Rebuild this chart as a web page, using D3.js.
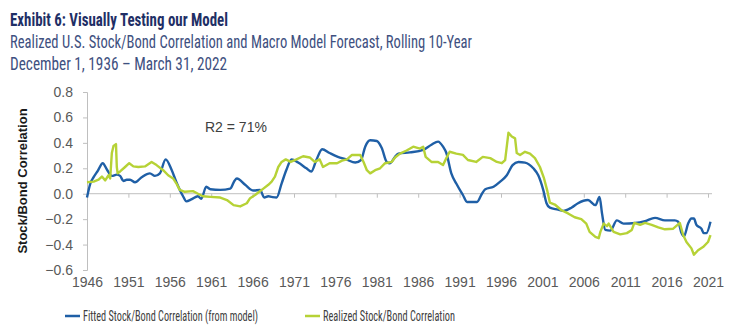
<!DOCTYPE html>
<html>
<head>
<meta charset="utf-8">
<script src="https://cdn.jsdelivr.net/npm/d3@7"></script>
<style>
  body { margin: 0; background: #fff; }
  text { font-family: "Liberation Sans", Arial, sans-serif; }
  .narrow { font-family: "Liberation Sans Narrow", "Roboto Condensed", "DejaVu Sans Condensed", sans-serif; }
</style>
</head>
<body>
<script>
// fitted stock/bond correlation (model)
var fittedYears = [1946.0, 1946.4, 1946.8, 1947.3, 1947.9, 1948.4, 1949.0, 1949.6, 1950.0, 1950.4, 1950.8, 1951.2, 1951.8, 1952.6, 1953.6, 1954.2, 1954.8, 1955.5, 1956.2, 1956.8, 1957.6, 1958.0, 1958.6, 1959.4, 1959.8, 1960.4, 1960.9, 1962.1, 1963.3, 1963.8, 1964.1, 1965.1, 1966.1, 1966.9, 1967.4, 1967.9, 1968.3, 1968.9, 1969.5, 1970.1, 1970.7, 1971.5, 1972.5, 1973.1, 1973.7, 1974.4, 1975.3, 1976.3, 1977.3, 1978.4, 1979.1, 1979.6, 1980.2, 1981.0, 1981.6, 1982.2, 1982.6, 1983.2, 1983.6, 1985.0, 1986.6, 1987.6, 1988.4, 1989.0, 1989.4, 1990.0, 1990.6, 1991.4, 1991.9, 1992.6, 1993.1, 1993.7, 1994.1, 1995.1, 1995.9, 1996.7, 1997.4, 1998.1, 1998.9, 1999.9, 2000.5, 2001.1, 2001.5, 2001.9, 2002.9, 2003.5, 2004.5, 2005.3, 2006.5, 2007.4, 2007.9, 2008.2, 2008.6, 2009.2, 2010.0, 2010.8, 2012.2, 2013.4, 2014.6, 2015.8, 2017.0, 2017.4, 2017.8, 2018.1, 2018.6, 2019.0, 2019.3, 2019.6, 2020.2, 2020.5, 2020.8, 2021.3];
var fittedVals = [-0.03, 0.08, 0.13, 0.18, 0.24, 0.19, 0.14, 0.15, 0.14, 0.10, 0.11, 0.11, 0.09, 0.13, 0.16, 0.14, 0.16, 0.27, 0.19, 0.09, -0.02, -0.06, -0.045, -0.02, -0.04, 0.055, 0.035, 0.03, 0.04, 0.10, 0.12, 0.07, 0.025, 0.03, -0.03, -0.02, -0.025, -0.03, 0.08, 0.19, 0.27, 0.245, 0.20, 0.175, 0.265, 0.35, 0.32, 0.29, 0.27, 0.245, 0.265, 0.37, 0.42, 0.415, 0.36, 0.25, 0.24, 0.29, 0.315, 0.325, 0.345, 0.385, 0.41, 0.37, 0.32, 0.16, 0.08, -0.01, -0.065, -0.065, -0.065, 0.0, 0.035, 0.055, 0.095, 0.145, 0.225, 0.25, 0.245, 0.20, 0.145, 0.03, -0.075, -0.11, -0.125, -0.135, -0.11, -0.075, -0.05, -0.09, -0.025, -0.155, -0.285, -0.29, -0.21, -0.235, -0.23, -0.215, -0.19, -0.21, -0.21, -0.22, -0.31, -0.335, -0.235, -0.195, -0.195, -0.245, -0.275, -0.31, -0.31, -0.22];

// realized stock/bond correlation
var realizedYears = [1946.0, 1946.8, 1947.4, 1947.8, 1948.2, 1948.6, 1948.8, 1949.0, 1949.2, 1949.5, 1949.6, 1949.7, 1950.0, 1950.6, 1951.1, 1951.6, 1952.2, 1953.0, 1953.8, 1954.4, 1955.2, 1955.8, 1956.4, 1956.8, 1957.2, 1957.8, 1958.8, 1959.4, 1960.0, 1960.9, 1962.1, 1962.9, 1963.7, 1964.5, 1965.3, 1965.7, 1966.3, 1966.8, 1967.3, 1967.9, 1968.3, 1968.7, 1969.1, 1969.5, 1970.0, 1970.6, 1971.3, 1972.1, 1972.9, 1973.5, 1974.1, 1974.5, 1975.3, 1976.2, 1976.8, 1977.4, 1978.0, 1979.0, 1979.4, 1979.8, 1980.2, 1980.8, 1981.4, 1982.0, 1982.8, 1983.2, 1983.8, 1984.6, 1985.4, 1986.2, 1986.6, 1986.9, 1987.6, 1988.4, 1989.0, 1989.4, 1989.8, 1990.6, 1991.4, 1992.0, 1993.0, 1993.8, 1994.7, 1995.5, 1996.1, 1996.5, 1996.9, 1997.3, 1997.7, 1997.9, 1998.3, 1998.9, 1999.5, 2000.1, 2000.7, 2001.2, 2001.6, 2001.9, 2002.5, 2003.3, 2004.1, 2004.9, 2005.7, 2006.3, 2006.7, 2007.4, 2007.8, 2008.0, 2008.4, 2008.8, 2009.0, 2009.6, 2010.4, 2011.2, 2011.8, 2012.1, 2012.8, 2013.4, 2014.2, 2015.0, 2015.8, 2016.8, 2017.6, 2018.0, 2018.4, 2019.0, 2019.3, 2019.8, 2020.4, 2021.0, 2021.3];
var realizedVals = [0.09, 0.095, 0.11, 0.135, 0.105, 0.145, 0.12, 0.32, 0.375, 0.39, 0.21, 0.16, 0.175, 0.21, 0.24, 0.215, 0.21, 0.215, 0.25, 0.225, 0.185, 0.145, 0.12, 0.08, 0.03, 0.015, 0.02, 0.0, -0.02, -0.025, -0.03, -0.05, -0.09, -0.10, -0.075, -0.035, -0.01, 0.015, 0.04, 0.07, 0.095, 0.135, 0.21, 0.25, 0.27, 0.25, 0.27, 0.295, 0.285, 0.25, 0.27, 0.21, 0.24, 0.24, 0.26, 0.27, 0.305, 0.305, 0.25, 0.185, 0.16, 0.185, 0.20, 0.24, 0.25, 0.285, 0.315, 0.34, 0.37, 0.355, 0.37, 0.29, 0.25, 0.25, 0.225, 0.28, 0.33, 0.315, 0.305, 0.265, 0.25, 0.29, 0.28, 0.25, 0.24, 0.265, 0.48, 0.45, 0.435, 0.32, 0.305, 0.33, 0.315, 0.28, 0.21, 0.12, 0.02, -0.07, -0.085, -0.13, -0.155, -0.185, -0.20, -0.235, -0.30, -0.34, -0.35, -0.30, -0.235, -0.255, -0.235, -0.30, -0.32, -0.31, -0.285, -0.23, -0.245, -0.23, -0.245, -0.265, -0.28, -0.275, -0.23, -0.325, -0.38, -0.43, -0.48, -0.445, -0.42, -0.38, -0.325];

var xTicks = [1946, 1951, 1956, 1961, 1966, 1971, 1976, 1981, 1986, 1991, 1996, 2001, 2006, 2011, 2016, 2021];
var yTicks = [0.8, 0.6, 0.4, 0.2, 0.0, -0.2, -0.4, -0.6];

var blue = '#1f5fa6';
var green = '#b6d236';

var svg = d3.select('body')
    .append('svg')
    .attr('width', 740)
    .attr('height', 335);

// titles
svg.append('text')
    .attr('class', 'narrow')
    .attr('x', 10).attr('y', 26)
    .attr('font-size', 19).attr('font-weight', 'bold')
    .attr('fill', '#1f2f66')
    .attr('textLength', 218).attr('lengthAdjust', 'spacingAndGlyphs')
    .text('Exhibit 6: Visually Testing our Model');

svg.append('text')
    .attr('class', 'narrow')
    .attr('x', 10).attr('y', 48)
    .attr('font-size', 18.5)
    .attr('fill', '#3e5080')
    .attr('textLength', 462).attr('lengthAdjust', 'spacingAndGlyphs')
    .text('Realized U.S. Stock/Bond Correlation and Macro Model Forecast, Rolling 10-Year');

svg.append('text')
    .attr('class', 'narrow')
    .attr('x', 10).attr('y', 70)
    .attr('font-size', 18.5)
    .attr('fill', '#3e5080')
    .attr('textLength', 217).attr('lengthAdjust', 'spacingAndGlyphs')
    .text('December 1, 1936 \u2013 March 31, 2022');

var x = d3.scaleLinear().domain([1946, 2021]).range([87, 708]);
var y = d3.scaleLinear().domain([-0.6, 0.8]).range([270, 92]);

// y axis
var yAxis = svg.append('g')
    .attr('transform', 'translate(87,0)')
    .call(d3.axisLeft(y).tickValues(yTicks).tickSize(4).tickPadding(10)
        .tickFormat(d3.format('.1f')));
yAxis.select('.domain').attr('stroke', '#bfbfbf');
yAxis.selectAll('.tick line').attr('stroke', '#bfbfbf');
yAxis.selectAll('.tick text')
    .attr('fill', '#595959')
    .attr('font-size', 14)
    .attr('font-family', '"Liberation Sans", Arial, sans-serif');

// x axis along zero line
var xAxis = svg.append('g')
    .attr('transform', 'translate(0,' + y(0) + ')')
    .call(d3.axisBottom(x).tickValues(xTicks).tickSize(4).tickSizeOuter(0)
        .tickFormat(d3.format('d')));
xAxis.select('.domain').attr('stroke', '#bfbfbf').attr('d', 'M87,0H712');
xAxis.selectAll('.tick line').attr('stroke', '#bfbfbf');
xAxis.selectAll('.tick text')
    .attr('fill', '#595959')
    .attr('font-size', 14)
    .attr('font-family', '"Liberation Sans", Arial, sans-serif')
    .attr('y', 292 - y(0) - 5)
    .attr('dy', 0);

// axis title
svg.append('text')
    .attr('transform', 'translate(27,181) rotate(-90)')
    .attr('text-anchor', 'middle')
    .attr('font-size', 13).attr('font-weight', 'bold')
    .attr('fill', '#1a1a1a')
    .text('Stock/Bond Correlation');

svg.append('text')
    .attr('x', 205).attr('y', 132)
    .attr('font-size', 14)
    .attr('fill', '#404040')
    .text('R2 = 71%');

var fitted = fittedYears.map(function (d, i) { return [d, fittedVals[i]]; });
var realized = realizedYears.map(function (d, i) { return [d, realizedVals[i]]; });

var line = d3.line()
    .x(function (d) { return x(d[0]); })
    .y(function (d) { return y(d[1]); });

svg.append('path')
    .datum(fitted)
    .attr('fill', 'none')
    .attr('stroke', blue)
    .attr('stroke-width', 2.4)
    .attr('stroke-linejoin', 'round')
    .attr('d', line.curve(d3.curveMonotoneX));

svg.append('path')
    .datum(realized)
    .attr('fill', 'none')
    .attr('stroke', green)
    .attr('stroke-width', 2.4)
    .attr('stroke-linejoin', 'round')
    .attr('d', line.curve(d3.curveLinear));

// legend
var legendItems = [
    { label: 'Fitted Stock/Bond Correlation (from model)', color: blue, x: 65, w: 175 },
    { label: 'Realized Stock/Bond Correlation', color: green, x: 305, w: 132 }
];
var lg = svg.selectAll('.legend')
    .data(legendItems)
    .enter()
    .append('g')
    .attr('transform', function (d) { return 'translate(' + d.x + ',316)'; });
lg.append('line')
    .attr('x1', 0).attr('x2', 15)
    .attr('stroke', function (d) { return d.color; })
    .attr('stroke-width', 2.5);
lg.append('text')
    .attr('class', 'narrow')
    .attr('x', 18).attr('y', 5)
    .attr('font-size', 14.5)
    .attr('fill', '#404040')
    .attr('textLength', function (d) { return d.w; })
    .attr('lengthAdjust', 'spacingAndGlyphs')
    .text(function (d) { return d.label; });
</script>
</body>
</html>
